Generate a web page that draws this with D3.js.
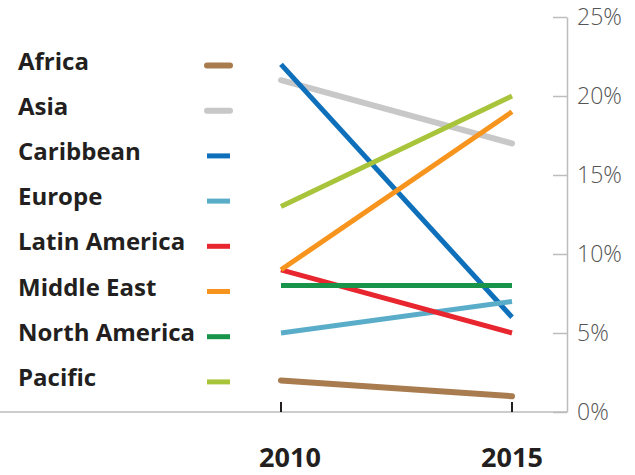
<!DOCTYPE html>
<html>
<head>
<meta charset="utf-8">
<script src="https://cdn.jsdelivr.net/npm/d3@7"></script>
<style>
  body { margin: 0; background: #fff; }
  text { font-family: "Open Sans", "Noto Sans", sans-serif; }
</style>
</head>
<body>
<div id="chart"></div>
<script>
const regions = ["Africa", "Asia", "Caribbean", "Europe", "Latin America", "Middle East", "North America", "Pacific"];
const years = ["2010", "2015"];
const share2010 = [2, 21, 22, 5, 9, 9, 8, 13];
const share2015 = [1, 17, 6, 7, 5, 19, 8, 20];
const yTicks = [0, 5, 10, 15, 20, 25];
const colors = ["#a97c50", "#c8c8c9", "#0e6fba", "#5aadc9", "#e8262f", "#f7941d", "#17934a", "#a8c43a"];

const width = 635, height = 475;

const svg = d3.select("#chart")
  .append("svg")
  .attr("width", width)
  .attr("height", height);

const x = d3.scalePoint()
  .domain(years)
  .range([281, 512]);

const y = d3.scaleLinear()
  .domain([0, 25])
  .range([412, 17]);

// right axis
const yAxis = svg.append("g")
  .attr("transform", "translate(567,0)")
  .call(d3.axisRight(y)
    .tickValues(yTicks)
    .tickSizeInner(-14)
    .tickSizeOuter(0)
    .tickPadding(10)
    .tickFormat(d => d + "%"));

yAxis.select(".domain").attr("stroke", "#bdbdbd").attr("stroke-width", 1.5);
yAxis.selectAll(".tick line").attr("stroke", "#bdbdbd").attr("stroke-width", 1.5);
yAxis.selectAll(".tick text")
  .attr("fill", "#555")
  .attr("font-size", 23)
  .attr("font-weight", 300)
  .attr("font-family", "'Open Sans', sans-serif");

// baseline
svg.append("line")
  .attr("x1", 0)
  .attr("x2", 567)
  .attr("y1", y(0))
  .attr("y2", y(0))
  .attr("stroke", "#bdbdbd")
  .attr("stroke-width", 1.5);

// year ticks
svg.selectAll(".ytick")
  .data(years)
  .enter()
  .append("line")
    .attr("x1", d => x(d))
    .attr("x2", d => x(d))
    .attr("y1", y(0) - 10)
    .attr("y2", y(0))
    .attr("stroke", "#231f20")
    .attr("stroke-width", 2);

svg.selectAll(".yearlabel")
  .data(years)
  .enter()
  .append("text")
    .attr("x", d => x(d))
    .attr("dx", (d, i) => i === 0 ? 9 : 0)
    .attr("y", 467)
    .attr("text-anchor", "middle")
    .attr("font-size", 27)
    .attr("font-weight", 700)
    .attr("fill", "#231f20")
    .text(d => d);

// slope lines
const data = regions.map((r, i) => ({ region: r, values: [share2010[i], share2015[i]], color: colors[i] }));

const line = d3.line()
  .x((d, i) => x(years[i]))
  .y(d => y(d));

svg.selectAll(".slope")
  .data(data)
  .enter()
  .append("path")
    .attr("fill", "none")
    .attr("stroke", d => d.color)
    .attr("stroke-width", (d, i) => i < 2 ? 6 : 5)
    .attr("stroke-linecap", (d, i) => i < 2 ? "round" : "butt")
    .attr("d", d => line(d.values));

// legend
const legend = svg.append("g");

data.forEach((d, i) => {
  const yy = 65.5 + i * 45.2;
  legend.append("text")
    .attr("x", 18)
    .attr("y", yy + 4)
    .attr("font-size", 24)
    .attr("font-weight", 700)
    .attr("fill", "#231f20")
    .text(d.region);

  legend.append("line")
    .attr("x1", 207)
    .attr("x2", 230)
    .attr("y1", yy)
    .attr("y2", yy)
    .attr("stroke", d.color)
    .attr("stroke-width", i < 2 ? 6 : 5)
    .attr("stroke-linecap", i < 2 ? "round" : "butt");
});
</script>
</body>
</html>
